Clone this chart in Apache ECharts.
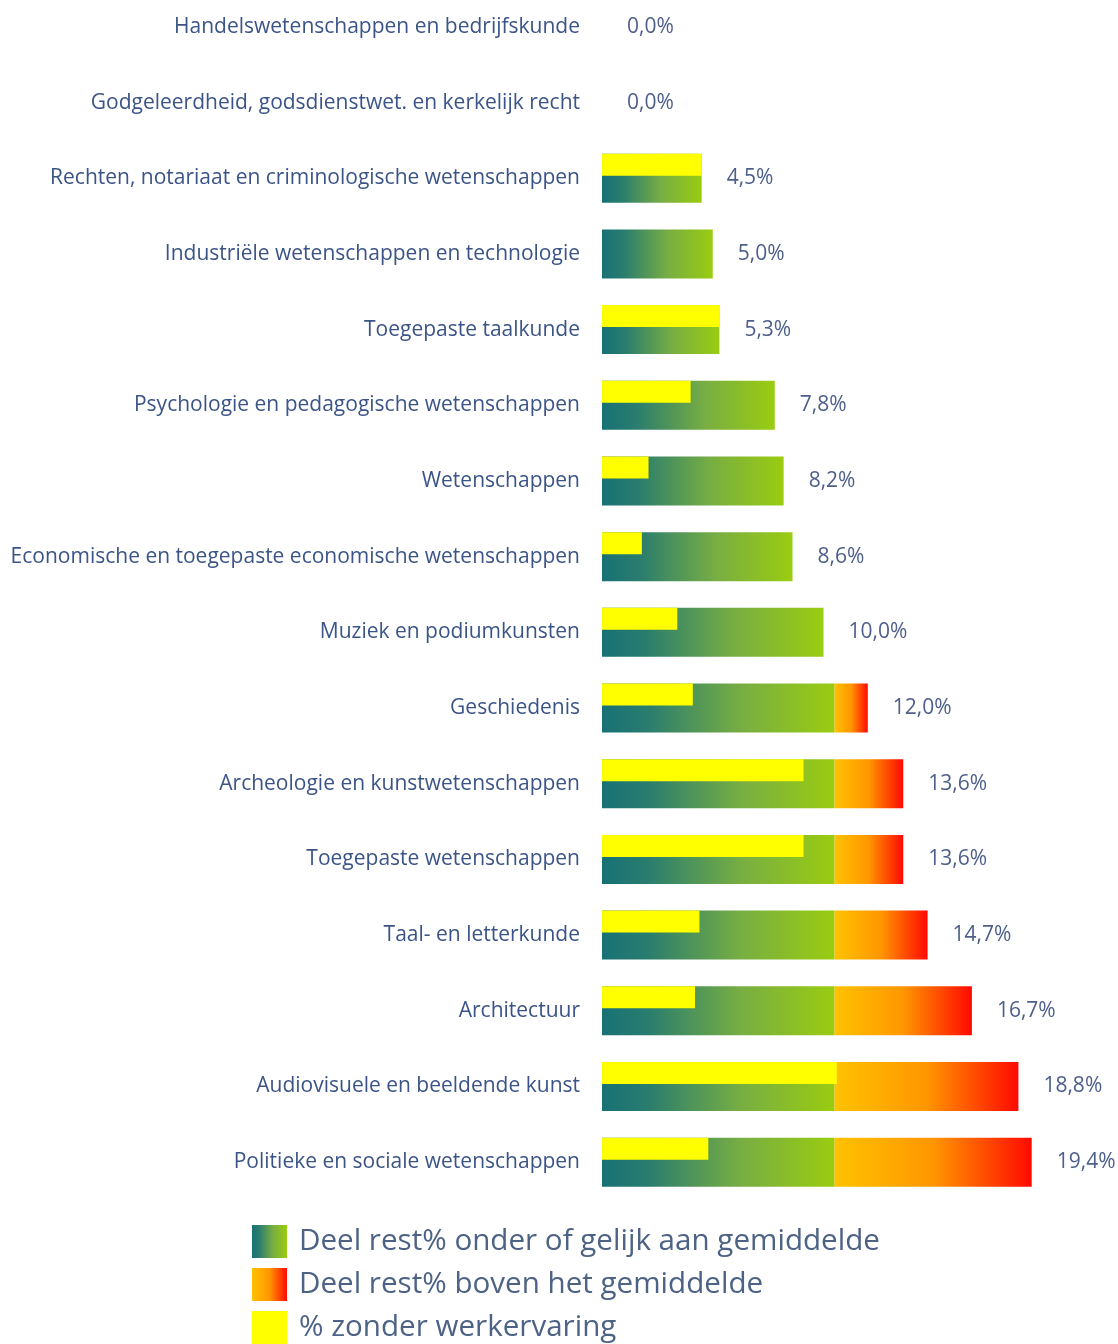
<!DOCTYPE html>
<html><head><meta charset="utf-8">
<script src="https://cdn.jsdelivr.net/npm/echarts@6/dist/echarts.min.js"></script>
<style>html,body{margin:0;padding:0;background:#fff;overflow:hidden}#c{width:1118px;height:1420px;margin-top:-11px}</style>
</head><body><div id="c"></div>
<script>
var categories = [
  'Handelswetenschappen en bedrijfskunde',
  'Godgeleerdheid, godsdienstwet. en kerkelijk recht',
  'Rechten, notariaat en criminologische wetenschappen',
  'Industriële wetenschappen en technologie',
  'Toegepaste taalkunde',
  'Psychologie en pedagogische wetenschappen',
  'Wetenschappen',
  'Economische en toegepaste economische wetenschappen',
  'Muziek en podiumkunsten',
  'Geschiedenis',
  'Archeologie en kunstwetenschappen',
  'Toegepaste wetenschappen',
  'Taal- en letterkunde',
  'Architectuur',
  'Audiovisuele en beeldende kunst',
  'Politieke en sociale wetenschappen'
];
var totals = [0.0, 0.0, 4.5, 5.0, 5.3, 7.8, 8.2, 8.6, 10.0, 12.0, 13.6, 13.6, 14.7, 16.7, 18.8, 19.4];
var noExperience = [0, 0, 4.5, 0, 5.3, 4.0, 2.1, 1.8, 3.4, 4.1, 9.1, 9.1, 4.4, 4.2, 10.6, 4.8];
var average = 10.5;

var belowAvg = totals.map(function (t) { return Math.min(t, average); });
var aboveAvg = totals.map(function (t) { return Math.max(0, +(t - average).toFixed(2)); });
var spacer = totals.map(function () { return 0; });

var txt = '#3b5488';
var greenGrad = new echarts.graphic.LinearGradient(0, 0, 1, 0, [
  {offset: 0, color: '#177175'}, {offset: 0.2, color: '#2a7d6e'}, {offset: 0.6, color: '#78ae42'}, {offset: 1, color: '#9acc10'}]);
var redGrad = new echarts.graphic.LinearGradient(0, 0, 1, 0, [
  {offset: 0, color: '#ffc200'}, {offset: 0.5, color: '#ff9600'}, {offset: 1, color: '#ff0a00'}]);

var chart = echarts.init(document.getElementById('c'));
chart.setOption({
  animation: false,
  textStyle: {fontFamily: 'Open Sans'},
  grid: {left: 602, right: 73, top: 0, bottom: 209},
  xAxis: {type: 'value', min: 0, max: 20, show: false},
  yAxis: [
    {type: 'category', data: categories, inverse: true,
     axisLine: {show: false}, axisTick: {show: false}, splitLine: {show: false},
     axisLabel: {color: txt, fontSize: 21, margin: 22, fontFamily: 'Open Sans'}},
    {type: 'category', data: categories, inverse: true, show: false}
  ],
  legend: {
    orient: 'vertical', left: 247, top: 1231, itemWidth: 35, itemHeight: 33, itemGap: 10,
    icon: 'rect',
    data: ['Deel rest% onder of gelijk aan gemiddelde', 'Deel rest% boven het gemiddelde', '% zonder werkervaring'],
    textStyle: {color: '#4d6385', fontSize: 29.6, padding: [0, 0, 0, 7], fontFamily: 'Open Sans'}
  },
  series: [
    {name: 'Deel rest% onder of gelijk aan gemiddelde', type: 'bar', stack: 'rest', yAxisIndex: 0,
     barWidth: 49, data: belowAvg, itemStyle: {color: greenGrad}, z: 2},
    {name: 'Deel rest% boven het gemiddelde', type: 'bar', stack: 'rest', yAxisIndex: 0,
     barWidth: 49, data: aboveAvg, itemStyle: {color: redGrad}, z: 2,
     label: {show: true, position: 'right', distance: 25, color: '#4d5f8a', fontSize: 21,
       formatter: function (p) { return totals[p.dataIndex].toFixed(1).replace('.', ',') + '%'; }}},
    {name: '% zonder werkervaring', type: 'bar', yAxisIndex: 1, barWidth: 22, barGap: 0,
     data: noExperience, itemStyle: {color: '#ffff00'}, z: 3},
    {name: 'spacer', type: 'bar', yAxisIndex: 1, barWidth: 27, barGap: 0,
     data: spacer, itemStyle: {color: 'rgba(0,0,0,0)'}, z: 3}
  ]
});
</script></body></html>
